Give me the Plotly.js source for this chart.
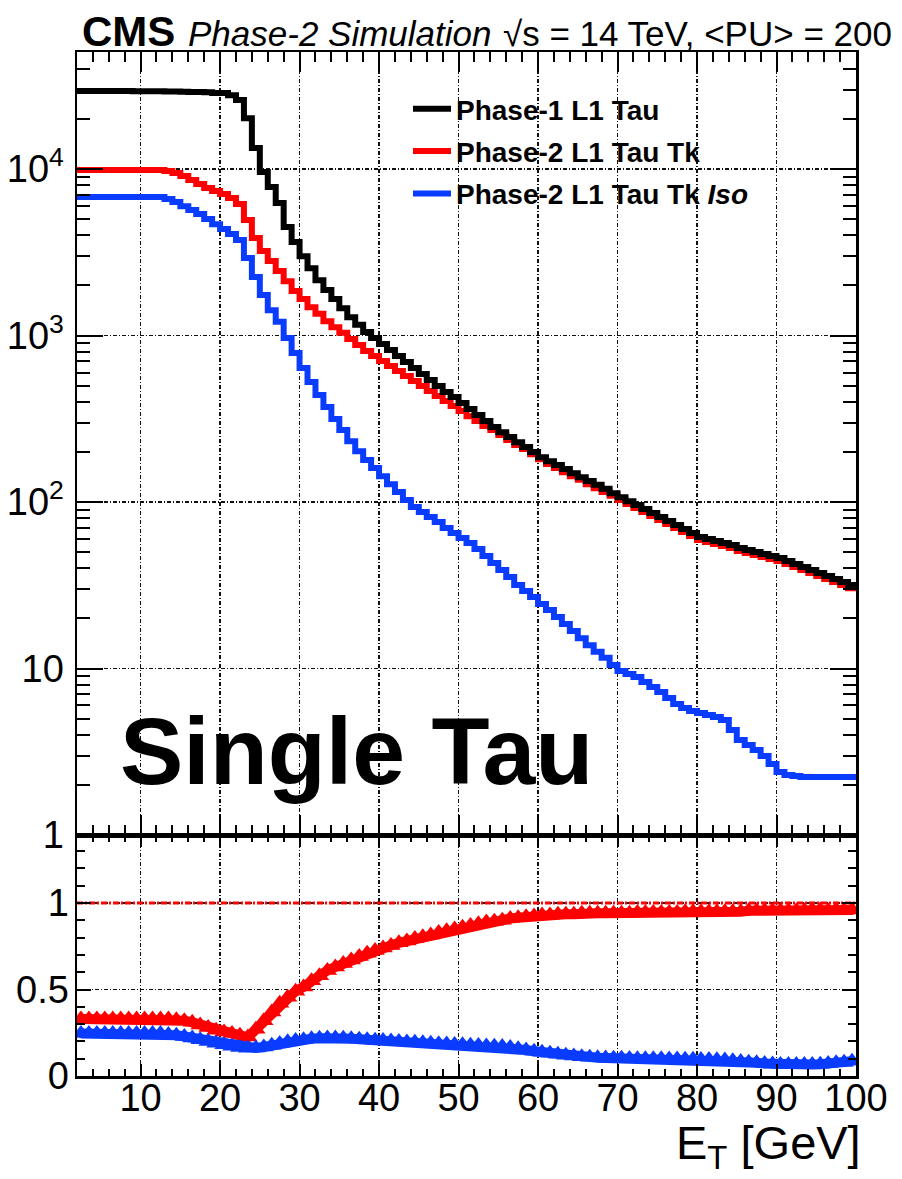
<!DOCTYPE html>
<html>
<head>
<meta charset="utf-8">
<script src="https://cdn.plot.ly/plotly-3.0.1.min.js"></script>
<style>
  html, body { margin: 0; padding: 0; background: #fff; }
  #chart { width: 902px; height: 1179px; }
</style>
</head>
<body>
<div id="chart"></div>
<script>
// L1 single-tau trigger rate vs. E_T threshold, 1 GeV bins from 2 to 100 GeV.
// Each array holds one value per bin (lower edges 2, 3, ..., 99).
const binLow = 2, binHigh = 100;

const ratePhase1 = [
  29400, 29400, 29400, 29400, 29400, 29400, 29400, 29300,
  29300, 29300, 29300, 29200, 29200, 29100, 29000, 29000, 28900, 28600,
  28600, 27800, 26000, 20200, 13400, 9590, 7800, 6250, 4490, 3650,
  3000, 2540, 2150, 1880, 1660, 1460, 1290, 1160, 1050, 966,
  889, 818, 753, 693, 638, 587, 540, 497, 458, 427,
  393, 362, 333, 307, 282, 263, 246, 229, 214, 200,
  186, 176, 167, 158, 149, 141, 134, 127, 120, 113,
  107, 101, 95.9, 90.8, 85.9, 81.3, 76.9, 72.8, 68.8, 65.1,
  61.6, 59.9, 58.3, 56.7, 55.2, 52.9, 51.5, 50.1, 48.7, 47.4,
  46.1, 44.2, 42.4, 40.7, 39.0, 37.5, 35.9, 34.5, 33.1, 31.7
];

const rateTk = [
  9860, 9860, 9860, 9860, 9860, 9860, 9860, 9860,
  9860, 9860, 9860, 9730, 9460, 9080, 8590, 8130, 7690, 7380,
  7080, 6700, 6160, 4940, 3850, 3220, 2800, 2440, 2120, 1850,
  1660, 1480, 1350, 1220, 1120, 1040, 953, 877, 807, 753,
  703, 656, 612, 571, 533, 497, 464, 433, 404, 377,
  352, 328, 307, 286, 271, 253, 236, 220, 208, 194,
  181, 169, 160, 151, 143, 136, 128, 121, 115, 109,
  103, 97.3, 92.0, 87.1, 82.4, 78.0, 73.8, 69.8, 66.0, 62.5,
  59.1, 57.5, 56.0, 54.4, 52.9, 50.8, 49.4, 48.1, 46.7, 45.5,
  44.2, 42.4, 40.7, 39.0, 37.5, 35.9, 34.5, 33.1, 31.7, 30.4
];

const rateTkIso = [
  6790, 6790, 6790, 6790, 6790, 6790, 6790, 6790,
  6790, 6790, 6790, 6610, 6340, 5990, 5670, 5370, 5010, 4670,
  4360, 4070, 3750, 2920, 2250, 1750, 1420, 1210, 966, 785,
  638, 526, 439, 372, 315, 271, 232, 202, 179, 160,
  143, 128, 115, 103, 93.3, 87.1, 81.3, 75.9, 69.8, 65.1,
  60.8, 56.7, 52.2, 47.4, 43.0, 39.0, 35.5, 31.7, 29.2, 26.9,
  24.4, 22.5, 20.4, 18.5, 16.8, 15.2, 13.8, 12.6, 11.6, 10.5,
  9.66, 9.27, 8.89, 8.30, 7.74, 7.22, 6.65, 6.12, 5.79, 5.56,
  5.40, 5.26, 5.11, 4.91, 4.27, 3.72, 3.47, 3.24, 2.98, 2.67,
  2.39, 2.29, 2.26, 2.23, 2.23, 2.23, 2.23, 2.23, 2.23, 2.23
];

// Ratios to the Phase-1 rate, shown in the lower pad
const ratioTk = [
  0.33, 0.33, 0.33, 0.33, 0.33, 0.33, 0.33, 0.33,
  0.33, 0.33, 0.33, 0.33, 0.325, 0.32, 0.31, 0.295, 0.28, 0.265,
  0.255, 0.245, 0.235, 0.225, 0.27, 0.32, 0.37, 0.42, 0.455, 0.49,
  0.515, 0.55, 0.58, 0.61, 0.63, 0.65, 0.67, 0.69, 0.71, 0.725,
  0.74, 0.755, 0.77, 0.78, 0.795, 0.805, 0.815, 0.83, 0.84, 0.85,
  0.86, 0.87, 0.88, 0.89, 0.895, 0.9, 0.91, 0.915, 0.92, 0.925,
  0.93, 0.93, 0.935, 0.935, 0.935, 0.94, 0.94, 0.94, 0.94, 0.94,
  0.94, 0.94, 0.945, 0.945, 0.945, 0.945, 0.945, 0.945, 0.95, 0.95,
  0.95, 0.95, 0.95, 0.95, 0.95, 0.95, 0.955, 0.955, 0.955, 0.955,
  0.955, 0.955, 0.955, 0.955, 0.96, 0.96, 0.955, 0.96, 0.955, 0.96
];

const ratioTkIso = [
  0.245, 0.245, 0.245, 0.245, 0.245, 0.245, 0.245, 0.245,
  0.245, 0.245, 0.245, 0.24, 0.235, 0.228, 0.22, 0.21, 0.2, 0.19,
  0.18, 0.172, 0.165, 0.16, 0.162, 0.168, 0.178, 0.188, 0.198, 0.205,
  0.21, 0.215, 0.218, 0.22, 0.22, 0.218, 0.216, 0.213, 0.21, 0.207,
  0.205, 0.202, 0.2, 0.197, 0.195, 0.192, 0.19, 0.187, 0.185, 0.182,
  0.18, 0.178, 0.176, 0.174, 0.172, 0.17, 0.165, 0.158, 0.15, 0.143,
  0.137, 0.131, 0.125, 0.12, 0.115, 0.111, 0.108, 0.106, 0.104, 0.103,
  0.102, 0.101, 0.1, 0.1, 0.099, 0.099, 0.098, 0.098, 0.097, 0.097,
  0.096, 0.095, 0.094, 0.092, 0.088, 0.084, 0.08, 0.076, 0.072, 0.069,
  0.067, 0.066, 0.066, 0.066, 0.066, 0.068, 0.072, 0.076, 0.08, 0.085
];

const unityLine = [1, 1];

const seriesNames = ['Phase-1 L1 Tau', 'Phase-2 L1 Tau Tk', 'Phase-2 L1 Tau Tk <i>Iso</i>'];
const xTickVals = [10, 20, 30, 40, 50, 60, 70, 80, 90, 100];
const xTickText = ['10', '20', '30', '40', '50', '60', '70', '80', '90', '100'];
const rateTickVals = [1, 10, 100, 1000, 10000];
const rateTickText = ['1', '10', '10<sup>2</sup>', '10<sup>3</sup>', '10<sup>4</sup>'];
const ratioTickVals = [0, 0.5, 1];
const ratioTickText = ['0', '0.5', '1'];

// Bin edges and centres
const edges = [];
for (let e = binLow; e <= binHigh; e++) edges.push(e);
const centres = edges.slice(0, -1).map(e => e + 0.5);
const stepY = arr => arr.concat([arr[arr.length - 1]]);

// Page geometry (pixels)
const W = 902, H = 1179;
const padL = 77, padR = 856, padT = 52, padB = 1076, padSplit = 835;
const split = (padB - padSplit) / (padB - padT);
const py = p => 1 - (p - padT) / (padB - padT);
const px = p => (p - padL) / (padR - padL);

const FONT = 'Liberation Sans, Arial, Helvetica, sans-serif';
const RED = '#ff0000', BLUE = '#0a3cff', BLACK = '#000000';

const frame = {
  showline: true, linecolor: '#000', linewidth: 2.5, mirror: 'ticks',
  ticks: 'inside', tickcolor: '#000', tickwidth: 2, zeroline: false,
  showgrid: true, gridcolor: '#111', gridwidth: 1.3, griddash: '4px,2px,1px,2px',
  tickfont: { family: FONT, size: 38, color: '#000' }
};

const traces = [
  { x: edges, y: stepY(rateTk), xaxis: 'x', yaxis: 'y', mode: 'lines',
    line: { shape: 'hv', color: RED, width: 6 }, name: seriesNames[1],
    legendgroup: 'tk', legendrank: 2 },
  { x: edges, y: stepY(rateTkIso), xaxis: 'x', yaxis: 'y', mode: 'lines',
    line: { shape: 'hv', color: BLUE, width: 6 }, name: seriesNames[2],
    legendgroup: 'iso', legendrank: 3 },
  { x: edges, y: stepY(ratePhase1), xaxis: 'x', yaxis: 'y', mode: 'lines',
    line: { shape: 'hv', color: BLACK, width: 6 }, name: seriesNames[0],
    legendgroup: 'ph1', legendrank: 1 },
  { x: [binLow, binHigh], y: unityLine, xaxis: 'x2', yaxis: 'y2', mode: 'lines',
    line: { color: RED, width: 3, dash: '6px,2px,2px,2px' }, showlegend: false, hoverinfo: 'skip' },
  { x: centres, y: ratioTk, xaxis: 'x2', yaxis: 'y2', mode: 'lines+markers',
    line: { color: RED, width: 10 }, marker: { symbol: 'triangle-up', size: 17, color: RED },
    showlegend: false },
  { x: centres, y: ratioTkIso, xaxis: 'x2', yaxis: 'y2', mode: 'lines+markers',
    line: { color: BLUE, width: 10 }, marker: { symbol: 'triangle-up', size: 17, color: BLUE },
    showlegend: false }
];

const layout = {
  width: W, height: H,
  margin: { l: padL, r: W - padR, t: padT, b: H - padB, pad: 0 },
  paper_bgcolor: '#fff', plot_bgcolor: '#fff',
  showlegend: true,
  legend: {
    x: px(408), xanchor: 'left', y: py(84), yanchor: 'top',
    bgcolor: 'rgba(0,0,0,0)', borderwidth: 0, traceorder: 'grouped', tracegroupgap: 3,
    itemwidth: 38,
    font: { family: FONT, size: 28, weight: 'bold', color: '#000' }
  },
  xaxis: Object.assign({}, frame, {
    anchor: 'y', domain: [0, 1], range: [binLow, binHigh],
    tickvals: xTickVals, ticklen: 20, showticklabels: false,
    minor: { dtick: 2, tick0: 0, ticks: 'inside', ticklen: 10, tickwidth: 2, tickcolor: '#000', showgrid: false }
  }),
  xaxis2: Object.assign({}, frame, {
    anchor: 'y2', domain: [0, 1], range: [binLow, binHigh], matches: 'x',
    tickvals: xTickVals, ticktext: xTickText, ticklen: 12, ticklabelstandoff: -13,
    minor: { dtick: 2, tick0: 0, ticks: 'inside', ticklen: 7, tickwidth: 2, tickcolor: '#000', showgrid: false }
  }),
  yaxis: Object.assign({}, frame, {
    type: 'log', anchor: 'x', domain: [split, 1], range: [0, Math.log10(50500)],
    tickvals: rateTickVals, ticktext: rateTickText, ticklen: 26, ticklabelstandoff: 3,
    minor: { dtick: 'D1', ticks: 'inside', ticklen: 13, tickwidth: 2, tickcolor: '#000', showgrid: false }
  }),
  yaxis2: Object.assign({}, frame, {
    anchor: 'x2', domain: [0, split], range: [0, 1.393],
    tickvals: ratioTickVals, ticktext: ratioTickText, ticklen: 14, ticklabelstandoff: -2,
    minor: { dtick: 0.1, tick0: 0, ticks: 'inside', ticklen: 8, tickwidth: 2, tickcolor: '#000', showgrid: false }
  }),
  annotations: [
    { xref: 'paper', yref: 'paper', x: px(80), y: py(31), xanchor: 'left', yanchor: 'middle',
      text: '<b>CMS</b>', showarrow: false, font: { family: FONT, size: 42, color: '#000' } },
    { xref: 'paper', yref: 'paper', x: px(186), y: py(33), xanchor: 'left', yanchor: 'middle',
      text: '<i>Phase-2 Simulation</i>', showarrow: false, font: { family: FONT, size: 35, color: '#000' } },
    { xref: 'paper', yref: 'paper', x: px(501), y: py(33), xanchor: 'left', yanchor: 'middle',
      text: '\u221As = 14 TeV, &lt;PU&gt; = 200', showarrow: false, font: { family: FONT, size: 35, color: '#000' } },
    { xref: 'paper', yref: 'paper', x: px(118), y: py(751), xanchor: 'left', yanchor: 'middle',
      text: '<b>Single Tau</b>', showarrow: false, font: { family: FONT, size: 95, color: '#000' } },
    { xref: 'paper', yref: 'paper', x: px(863), y: py(1146), xanchor: 'right', yanchor: 'middle',
      text: 'E<sub>T</sub> [GeV]', showarrow: false, font: { family: FONT, size: 47, color: '#000' } }
  ]
};

Plotly.newPlot('chart', traces, layout, { staticPlot: true, displayModeBar: false });
</script>
</body>
</html>
